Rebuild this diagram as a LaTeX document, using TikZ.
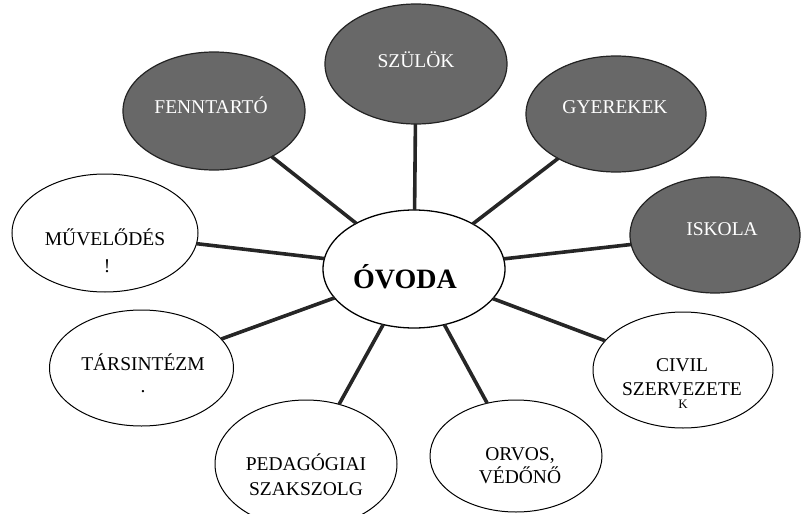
\documentclass[tikz,border=0pt]{standalone}
\usepackage{fontspec}
\setmainfont{Liberation Serif}
\usetikzlibrary{shapes.geometric}
\definecolor{darkfill}{RGB}{104,104,104}
\definecolor{darkedge}{RGB}{35,35,35}
\definecolor{linkcol}{RGB}{38,38,38}
\begin{document}
\begin{tikzpicture}[x=1pt,y=-1pt,
  bubble/.style={ellipse,inner sep=0pt,outer sep=0pt},
  darkbub/.style={bubble,fill=darkfill,draw=darkedge,line width=1.2pt},
  lightbub/.style={bubble,fill=white,draw=black,line width=1pt},
  lbl/.style={anchor=base,inner sep=0pt,font=\fontsize{19.5}{24}\selectfont},
  wlbl/.style={lbl,text=white},
  link/.style={draw=linkcol,line width=3.6pt}
]
\useasboundingbox (0,0) rectangle (801,514);
% bubbles
\node[lightbub,minimum width=182pt,minimum height=118pt,line width=1.3pt] (ovoda) at (414,269) {};
\node[darkbub,minimum width=182pt,minimum height=120pt] (szulok) at (416,64) {};
\node[darkbub,minimum width=182pt,minimum height=118pt] (fenn) at (214,111) {};
\node[darkbub,minimum width=180pt,minimum height=116pt] (gyer) at (616,114) {};
\node[darkbub,minimum width=170pt,minimum height=116pt] (isk) at (715,235) {};
\node[lightbub,minimum width=186pt,minimum height=118pt] (muv) at (105,233) {};
\node[lightbub,minimum width=184pt,minimum height=116pt] (tars) at (141.5,368) {};
\node[lightbub,minimum width=182pt,minimum height=128pt] (ped) at (306,464) {};
\node[lightbub,minimum width=172pt,minimum height=112pt] (orv) at (516,456) {};
\node[lightbub,minimum width=180pt,minimum height=116pt] (civ) at (683,370) {};
% connectors
\foreach \n in {szulok,fenn,gyer,isk,muv,tars,ped,orv,civ}
  \draw[link] (ovoda) -- (\n);
% labels
\node[lbl,font=\fontsize{28}{30}\selectfont\bfseries] (tovoda) at (405,288.5) {ÓVODA};
\node[wlbl] (tszulok) at (416,67) {SZÜLÖK};
\node[wlbl] (tfenn) at (211,113) {FENNTARTÓ};
\node[wlbl] (tgyer) at (615,113.5) {GYEREKEK};
\node[wlbl] (tisk) at (722,235) {ISKOLA};
\node[lbl] (tmuv) at (105,245) {MŰVELŐDÉS};
\node[lbl] (tmuvb) at (107,272) {!};
\node[lbl] (ttars) at (143,370) {TÁRSINTÉZM};
\node[lbl] (ttarsb) at (143,392) {.};
\node[lbl] (tped) at (306,470) {PEDAGÓGIAI};
\node[lbl] (tpedb) at (306,495) {SZAKSZOLG};
\node[lbl] (torv) at (520,460) {ORVOS,};
\node[lbl] (torvb) at (520,483) {VÉDŐNŐ};
\node[lbl] (tciv) at (682,371) {CIVIL};
\node[lbl] (tcivb) at (682,395) {SZERVEZETE};
\node[lbl,font=\fontsize{13}{14}\selectfont] (tcivc) at (683,408) {K};
\end{tikzpicture}
\end{document}
